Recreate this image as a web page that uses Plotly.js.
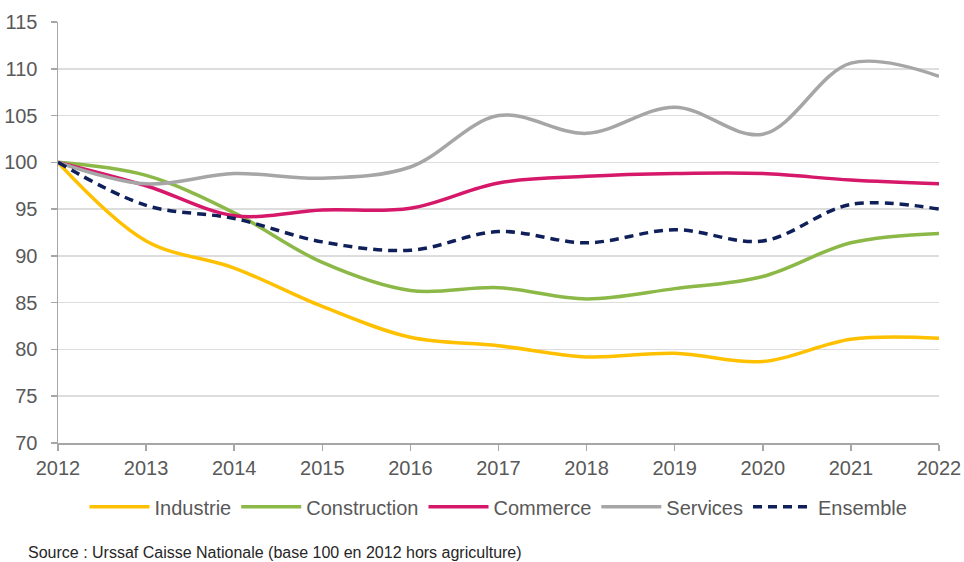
<!DOCTYPE html>
<html>
<head>
<meta charset="utf-8">
<script src="https://cdn.plot.ly/plotly-3.0.1.min.js"></script>
<style>html,body{margin:0;padding:0;background:#fff;}#chart{width:964px;height:562px;}</style>
</head>
<body>
<div id="chart"></div>
<script>
const years = [2012, 2013, 2014, 2015, 2016, 2017, 2018, 2019, 2020, 2021, 2022];
const industrie    = [100, 91.6, 88.7, 84.6, 81.3, 80.4, 79.2, 79.6, 78.7, 81.1, 81.2];
const construction = [100, 98.6, 94.6, 89.3, 86.3, 86.6, 85.4, 86.5, 87.8, 91.4, 92.4];
const commerce     = [100, 97.5, 94.3, 94.9, 95.1, 97.8, 98.5, 98.8, 98.8, 98.1, 97.7];
const services     = [100, 97.7, 98.8, 98.3, 99.5, 105.0, 103.1, 105.9, 103.0, 110.6, 109.2];
const ensemble     = [100, 95.4, 94.0, 91.5, 90.6, 92.6, 91.4, 92.8, 91.6, 95.5, 95.0];
const seriesNames  = ["Industrie", "Construction", "Commerce", "Services", "Ensemble"];
const yTicks = [70, 75, 80, 85, 90, 95, 100, 105, 110, 115];
const sourceText = "Source : Urssaf Caisse Nationale (base 100 en 2012 hors agriculture)";

const colors = ["#FFC000", "#8CB848", "#D6186A", "#A6A6A6", "#0F1F5A"];
const values = [industrie, construction, commerce, services, ensemble];

const traces = values.map((v, i) => ({
  x: years, y: v, name: seriesNames[i], type: "scatter", mode: "lines",
  line: {color: colors[i], width: 3.5, shape: "spline", smoothing: 1,
         dash: i === 4 ? "9px,6px" : "solid"},
  hoverinfo: "skip"
}));

const font = {family: "Liberation Sans, Arial, sans-serif", color: "#595959"};

const layout = {
  width: 964, height: 562,
  margin: {l: 58, r: 25, t: 22, b: 119},
  paper_bgcolor: "#fff", plot_bgcolor: "#fff",
  showlegend: true,
  legend: {orientation: "h", x: 0.5, xanchor: "center", y: -0.105, yanchor: "top",
           font: Object.assign({size: 20}, font), itemwidth: 60, traceorder: "normal"},
  xaxis: {range: [2012, 2022], tickvals: years, ticktext: years.map(String),
          showgrid: false, zeroline: false, showline: true, linecolor: "#A6A6A6", linewidth: 1.5,
          ticks: "outside", ticklen: 6, tickcolor: "#A6A6A6", tickwidth: 1.5,
          tickfont: Object.assign({size: 20}, font), fixedrange: true},
  yaxis: {range: [70, 115], tickvals: yTicks, ticktext: yTicks.map(String),
          showgrid: true, gridcolor: "#DDDDDD", gridwidth: 1.5, zeroline: false,
          showline: true, linecolor: "#A6A6A6", linewidth: 1.5,
          ticks: "outside", ticklen: 6, tickcolor: "#A6A6A6", tickwidth: 1.5,
          ticklabelstandoff: 9,
          tickfont: Object.assign({size: 20}, font), fixedrange: true},
  annotations: [{text: sourceText, xref: "paper", yref: "paper", x: -0.036, y: -0.26,
                 xanchor: "left", yanchor: "middle", showarrow: false,
                 font: {family: "Liberation Sans, Arial, sans-serif", size: 16, color: "#262626"}}]
};

Plotly.newPlot("chart", traces, layout, {displayModeBar: false, staticPlot: true});
</script>
</body>
</html>
